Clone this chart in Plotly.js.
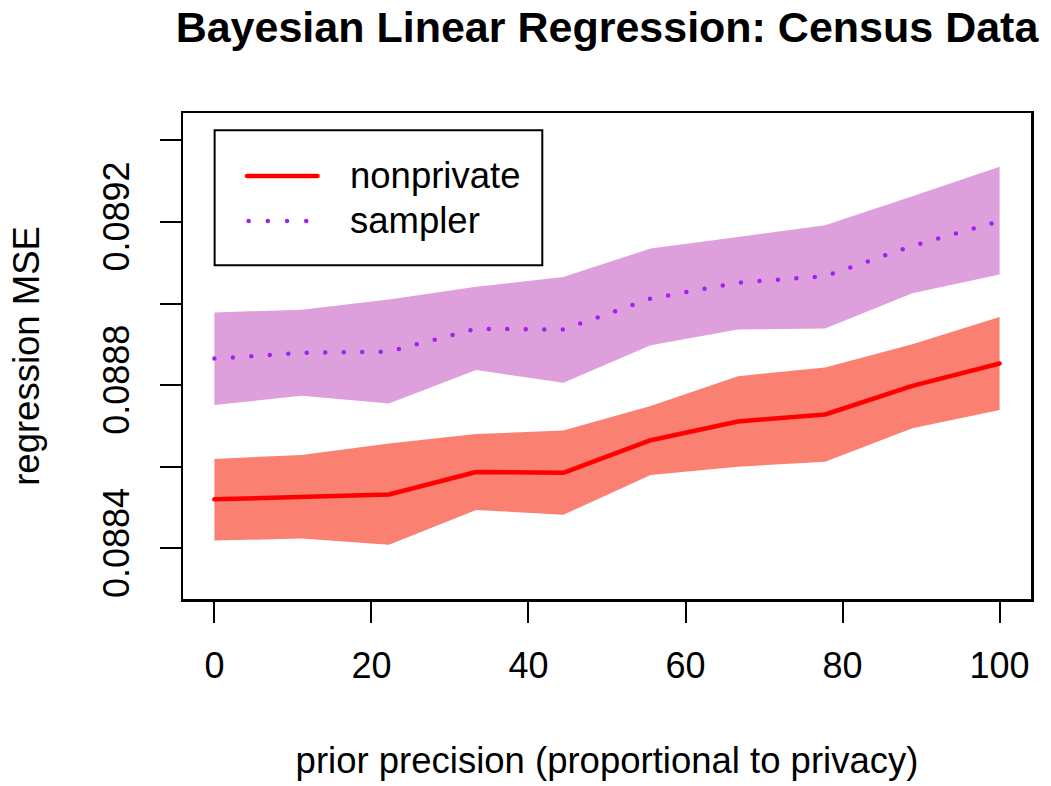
<!DOCTYPE html>
<html>
<head>
<meta charset="utf-8">
<script src="https://cdn.plot.ly/plotly-3.0.1.min.js"></script>
<style>
  html, body { margin: 0; padding: 0; background: #fff; }
  #chart { width: 1051px; height: 786px; }
  .scatterlayer .js-line { stroke-linecap: round; stroke-linejoin: round; }
  .shapelayer path { stroke-linecap: round; }
</style>
</head>
<body>
<div id="chart"></div>
<script>
// ---- data ----
const priorPrecision = [0, 11.11, 22.22, 33.33, 44.44, 55.56, 66.67, 77.78, 88.89, 100];

const nonprivateMSE   = [0.088520, 0.088526, 0.088532, 0.088587, 0.088585, 0.088665, 0.088711, 0.088728, 0.088798, 0.088853];
const nonprivateUpper = [0.088619, 0.088629, 0.088657, 0.088680, 0.088689, 0.088749, 0.088822, 0.088843, 0.088900, 0.088967];
const nonprivateLower = [0.088419, 0.088424, 0.088409, 0.088494, 0.088482, 0.088580, 0.088600, 0.088612, 0.088694, 0.088739];

const samplerMSE   = [0.088865, 0.088879, 0.088882, 0.088938, 0.088936, 0.089012, 0.089051, 0.089067, 0.089141, 0.089202];
const samplerUpper = [0.088978, 0.088985, 0.089010, 0.089041, 0.089065, 0.089135, 0.089163, 0.089192, 0.089263, 0.089335];
const samplerLower = [0.088751, 0.088774, 0.088755, 0.088837, 0.088806, 0.088898, 0.088936, 0.088939, 0.089025, 0.089071];

const xTickVals = [0, 20, 40, 60, 80, 100];
const xTickText = ["0", "20", "40", "60", "80", "100"];
const yTickVals = [0.0884, 0.0886, 0.0888, 0.0890, 0.0892, 0.0894];
const yTickText = ["0.0884", "", "0.0888", "", "0.0892", ""];

const seriesNames = ["nonprivate", "sampler"];

// ---- styles ----
const FONT = "Liberation Sans, Arial, Helvetica, sans-serif";
const RED = "#FF0000", SALMON = "#FA8072";
const PURPLE = "#A020F0", PLUM = "#DDA0DD";
const DOTS = "0px,18.5px";

const traces = [
  { x: priorPrecision, y: nonprivateLower, mode: "lines", line: { width: 0, color: SALMON },
    showlegend: false, hoverinfo: "skip" },
  { x: priorPrecision, y: nonprivateUpper, mode: "lines", line: { width: 0, color: SALMON },
    fill: "tonexty", fillcolor: SALMON, showlegend: false, hoverinfo: "skip" },
  { x: priorPrecision, y: samplerLower, mode: "lines", line: { width: 0, color: PLUM },
    showlegend: false, hoverinfo: "skip" },
  { x: priorPrecision, y: samplerUpper, mode: "lines", line: { width: 0, color: PLUM },
    fill: "tonexty", fillcolor: PLUM, showlegend: false, hoverinfo: "skip" },
  { x: priorPrecision, y: nonprivateMSE, mode: "lines", name: seriesNames[0],
    line: { width: 4.5, color: RED }, showlegend: false },
  { x: priorPrecision, y: samplerMSE, mode: "lines", name: seriesNames[1],
    line: { width: 4.5, color: PURPLE, dash: DOTS }, showlegend: false }
];

// manual R-style legend (box, line samples, labels)
const legX0 = 0.0373, legX1 = 0.4237, legYTop = 0.9644, legYBot = 0.6868;
const row1 = 0.8705, row2 = 0.7779;
const shapes = [
  { type: "rect", xref: "paper", yref: "paper", x0: legX0, x1: legX1, y0: legYBot, y1: legYTop,
    line: { color: "#000", width: 2 }, fillcolor: "rgba(255,255,255,1)" },
  { type: "line", xref: "paper", yref: "paper", x0: 0.0755, x1: 0.1587, y0: row1, y1: row1,
    line: { color: RED, width: 4.5 } },
  { type: "line", xref: "paper", yref: "paper", x0: 0.0774, x1: 0.1500, y0: row2, y1: row2,
    line: { color: PURPLE, width: 4.5, dash: "0px,19.2px" } }
];
const annotations = [
  { xref: "paper", yref: "paper", x: 0.195, y: row1, xanchor: "left", yanchor: "middle",
    text: seriesNames[0], showarrow: false, font: { family: FONT, size: 36.5, color: "#000" } },
  { xref: "paper", yref: "paper", x: 0.195, y: row2, xanchor: "left", yanchor: "middle",
    text: seriesNames[1], showarrow: false, font: { family: FONT, size: 36.5, color: "#000" } }
];

const layout = {
  width: 1051, height: 786,
  margin: { l: 183, r: 20, t: 113, b: 187, pad: 0 },
  paper_bgcolor: "#fff", plot_bgcolor: "#fff",
  font: { family: FONT, size: 36, color: "#000" },
  showlegend: false,
  title: {
    text: "<b>Bayesian Linear Regression: Census Data</b>",
    font: { family: FONT, size: 43, color: "#000" },
    xref: "paper", x: 0.5, xanchor: "center",
    yref: "container", y: 0.966, yanchor: "middle"
  },
  xaxis: {
    range: [-4, 104], tickmode: "array", tickvals: xTickVals, ticktext: xTickText,
    ticks: "outside", ticklen: 21, tickwidth: 2, tickcolor: "#000",
    ticklabelstandoff: 12,
    showline: true, linecolor: "#000", linewidth: 2.5, mirror: true,
    showgrid: false, zeroline: false,
    tickfont: { family: FONT, size: 36, color: "#000" },
    title: { text: "prior precision (proportional to privacy)", font: { family: FONT, size: 36.5, color: "#000" }, standoff: 63 }
  },
  yaxis: {
    range: [0.0882758, 0.0894669], tickmode: "array", tickvals: yTickVals, ticktext: yTickText,
    tickangle: -90,
    ticks: "outside", ticklen: 21, tickwidth: 2, tickcolor: "#000",
    ticklabelstandoff: 16,
    showline: true, linecolor: "#000", linewidth: 2.5, mirror: true,
    showgrid: false, zeroline: false,
    tickfont: { family: FONT, size: 36, color: "#000" },
    title: { text: "regression MSE", font: { family: FONT, size: 36.5, color: "#000" }, standoff: 46 }
  },
  shapes: shapes,
  annotations: annotations
};

Plotly.newPlot("chart", traces, layout, { displayModeBar: false, staticPlot: true });
</script>
</body>
</html>
